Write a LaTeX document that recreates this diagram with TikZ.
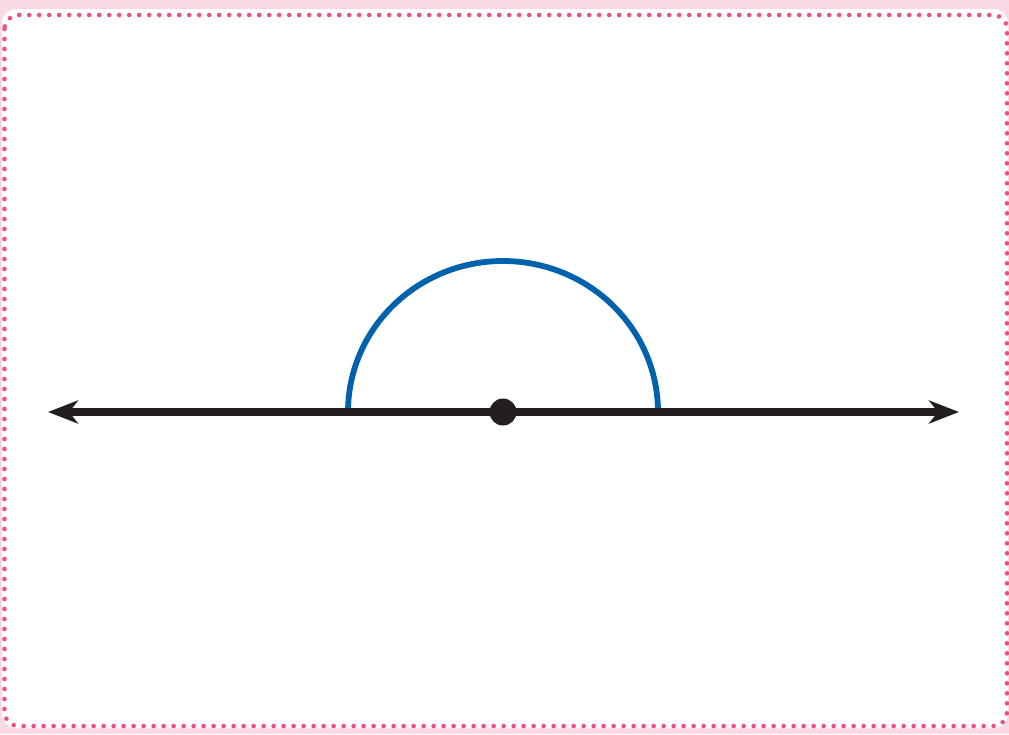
\documentclass[tikz,border=0pt]{standalone}
\usetikzlibrary{arrows.meta}
\definecolor{bandpink}{HTML}{FBD9E4}
\definecolor{dotpink}{HTML}{EE4F86}
\definecolor{arcblue}{HTML}{0061AD}
\definecolor{ink}{HTML}{231F20}
\tikzset{
  frame/.style={draw=dotpink, line width=4.6pt, line cap=round, dash pattern=on 0pt off 10pt, rounded corners=14pt},
  axis/.style={draw=ink, line width=7.2pt, {Stealth[length=30pt,width=23pt,inset=9pt]}-{Stealth[length=30pt,width=23pt,inset=9pt]}},
  vertex/.style={circle, fill=ink, minimum size=27pt, inner sep=0pt},
  arcline/.style={draw=arcblue, line width=5.8pt}
}
\begin{document}
\begin{tikzpicture}[x=1pt,y=-1pt]
\useasboundingbox (0,0) rectangle (1009,734);
\fill[bandpink] (0,0) rectangle (1009,734);
\fill[white, rounded corners=14pt] (2,9) rectangle (1008,728);
\draw[frame] (4.5,15) rectangle (1007,726);
\coordinate (L) at (48,412);
\coordinate (R) at (959,412);
\coordinate (A1) at (348,412);
\draw[arcline] (A1) arc[start angle=180, end angle=360, x radius=155, y radius=151];
\draw[axis] (L) -- (R);
\node[vertex] (O) at (503,412) {};
\end{tikzpicture}
\end{document}
